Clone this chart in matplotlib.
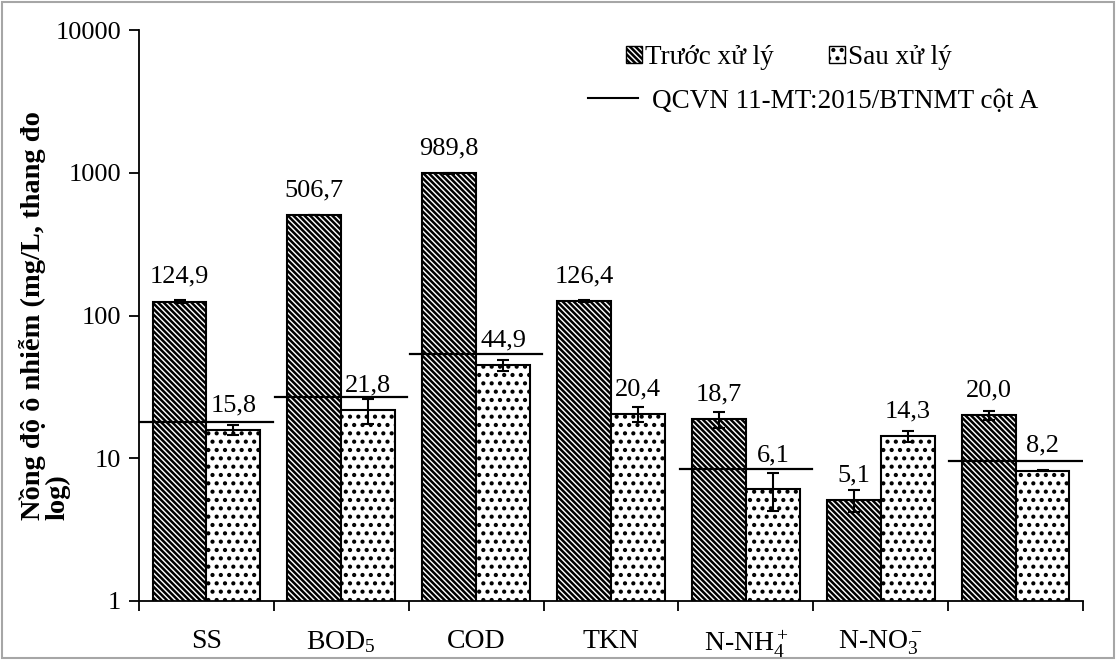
import numpy as np
import matplotlib.pyplot as plt
from matplotlib.patches import Patch, Rectangle
from matplotlib.lines import Line2D

plt.rcParams['font.family'] = ['Liberation Serif', 'DejaVu Serif']
plt.rcParams['mathtext.fontset'] = 'custom'
plt.rcParams['mathtext.rm'] = 'Liberation Serif'
plt.rcParams['mathtext.it'] = 'Liberation Serif:italic'
plt.rcParams['hatch.linewidth'] = 1.8

# du lieu
labels = ['SS', r'BOD$\mathregular{_5}$', 'COD', 'TKN',
          r'N-NH$\mathregular{_4^+}$', r'N-NO$\mathregular{_3^-}$', '']
truoc = [124.9, 506.7, 989.8, 126.4, 18.7, 5.1, 20.0]
truoc_err = [3.0, 2.0, 5.0, 2.5, 2.5, 0.9, 1.5]
sau = [15.8, 21.8, 44.9, 20.4, 6.1, 14.3, 8.2]
sau_err = [1.2, 4.3, 4.0, 2.5, 1.8, 1.2, 0.1]
qcvn = [18, 27, 54, np.nan, 8.4, np.nan, 9.5]

fs = 19
hatch_truoc = '\\' * 6
hatch_sau = '..'

fig = plt.figure(figsize=(11.16, 6.6), dpi=100)
ax = fig.add_axes([0.1246, 0.0894, 0.8458, 0.8651])

x = np.arange(len(truoc))
w = 0.4
ax.bar(x - w / 2, truoc, w, color='white', edgecolor='black', hatch=hatch_truoc,
       linewidth=1.5, zorder=2)
ax.bar(x + w / 2, sau, w, color='white', edgecolor='black', hatch=hatch_sau,
       linewidth=1.5, zorder=2)
ax.errorbar(x - w / 2, truoc, yerr=truoc_err, fmt='none', ecolor='black',
            elinewidth=1.5, capsize=4, capthick=1.5, zorder=3)
ax.errorbar(x + w / 2, sau, yerr=sau_err, fmt='none', ecolor='black',
            elinewidth=1.5, capsize=4, capthick=1.5, zorder=3)

# duong QCVN
for i, q in enumerate(qcvn):
    if not np.isnan(q):
        ax.plot([i - 0.49, i + 0.49], [q, q], color='black', lw=1.6, zorder=4)

# nhan gia tri
for i in range(len(truoc)):
    ax.annotate(f'{truoc[i]:.1f}'.replace('.', ','), (x[i] - w / 2, truoc[i]),
                xytext=(0, 10), textcoords='offset points', ha='center',
                va='bottom', fontsize=fs)
    off = 16 if i == 4 else 10
    ax.annotate(f'{sau[i]:.1f}'.replace('.', ','), (x[i] + w / 2, sau[i]),
                xytext=(0, off), textcoords='offset points', ha='center',
                va='bottom', fontsize=fs)

ax.set_yscale('log')
ax.set_ylim(1, 10000)
ax.set_yticks([1, 10, 100, 1000, 10000])
ax.set_yticklabels(['1', '10', '100', '1000', '10000'], fontsize=fs)
ax.yaxis.set_minor_locator(plt.NullLocator())
ax.set_xlim(-0.5, len(truoc) - 0.5)
ax.set_xticks(np.arange(len(truoc) + 1) - 0.5)
ax.set_xticklabels([])
ax.set_xticks(x, minor=True)
ax.set_xticklabels(labels, minor=True, fontsize=20)
ax.tick_params(axis='x', which='minor', length=0, pad=20)
ax.tick_params(axis='x', which='major', direction='out', length=7, width=1.3)
ax.tick_params(axis='y', direction='out', length=7, width=1.3, pad=6)
for s in ['top', 'right']:
    ax.spines[s].set_visible(False)
for s in ['left', 'bottom']:
    ax.spines[s].set_linewidth(1.3)

fig.text(45 / 1116, 0.522, 'Nồng độ ô nhiễm (mg/L, thang đo\nlog)',
         rotation=90, ha='center', va='center', fontsize=20.5,
         fontweight='bold', multialignment='left', linespacing=0.95)

h1 = [Patch(facecolor='white', edgecolor='black', hatch=hatch_truoc, label='Trước xử lý'),
      Patch(facecolor='white', edgecolor='black', hatch=hatch_sau, label='Sau xử lý')]
leg1 = ax.legend(handles=h1, ncol=2, frameon=False, fontsize=19.5,
                 loc='upper left', bbox_to_anchor=(0.49, 1.016),
                 handlelength=0.6, handleheight=0.6, handletextpad=0.1,
                 columnspacing=2.05)
ax.add_artist(leg1)
h2 = [Line2D([0], [0], color='black', lw=1.5,
             label='QCVN 11-MT:2015/BTNMT cột A')]
ax.legend(handles=h2, frameon=False, fontsize=19.5, loc='upper left',
          bbox_to_anchor=(0.45, 0.94), handlelength=1.85, handletextpad=0.5)

fig.patches.append(Rectangle((0.002, 0.003), 0.996, 0.994, transform=fig.transFigure,
                             fill=False, edgecolor='#a6a6a6', lw=1.5))

fig.savefig('out.png', dpi=100)
